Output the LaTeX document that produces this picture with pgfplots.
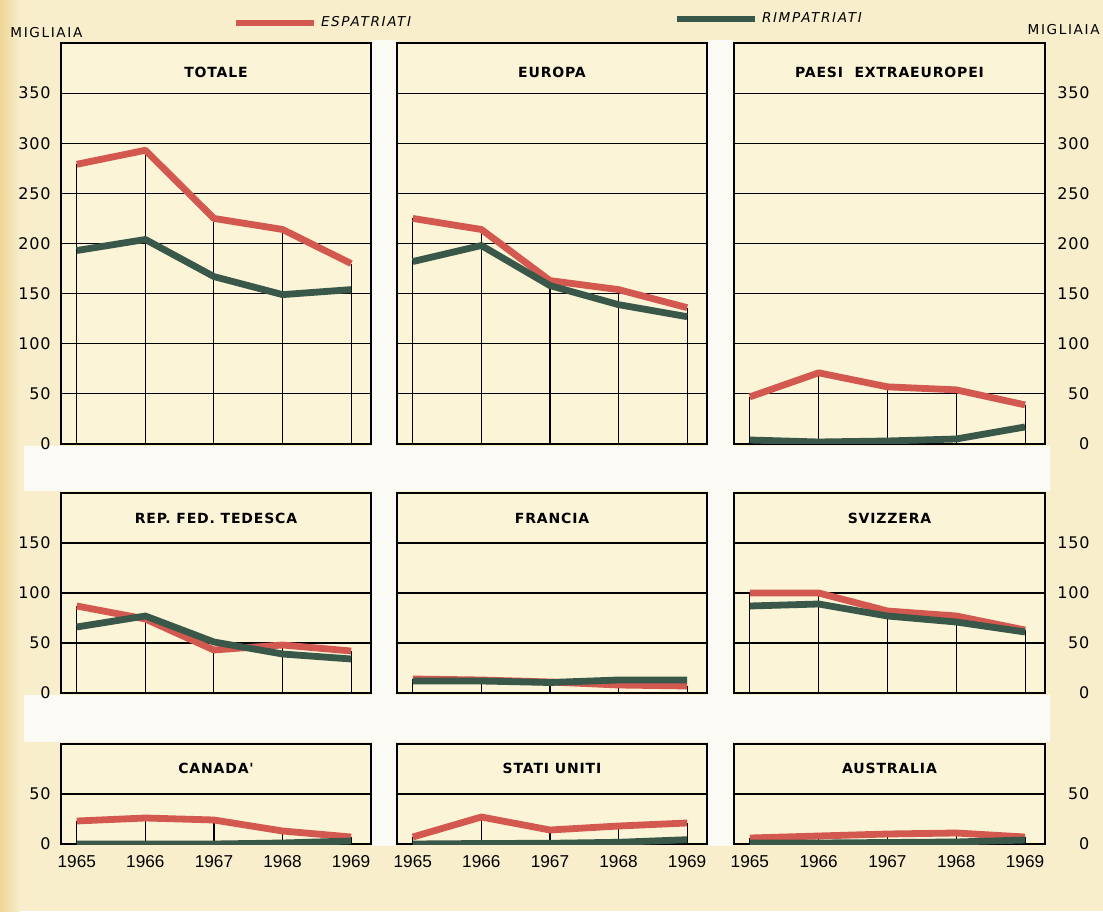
\documentclass[border=0pt]{standalone}
\usepackage{pgfplots}
\usepackage{pgfplotstable}
\pgfplotsset{compat=1.18}
\usepackage{fontspec}
\setmainfont{DejaVu Sans}
\newfontfamily\yearfont{Liberation Sans}
\newfontfamily\tickfont[LetterSpace=5]{DejaVu Sans}
\newfontfamily\titlefont[LetterSpace=6]{DejaVu Sans}
\newfontfamily\legfont[LetterSpace=12]{DejaVu Sans}
\definecolor{bg}{RGB}{248,238,204}
\definecolor{edge}{RGB}{238,214,150}
\definecolor{panelc}{RGB}{251,244,214}
\definecolor{gapc}{RGB}{251,250,244}
\definecolor{espc}{RGB}{211,88,80}
\definecolor{rimc}{RGB}{58,88,74}

\pgfplotstableread{
year esp rim
1965 279 193
1966 293 204
1967 225 167
1968 214 149
1969 180 154
}\totale
\pgfplotstableread{
year esp rim
1965 225 182
1966 214 198
1967 163 158
1968 154 139
1969 136 127
}\europa
\pgfplotstableread{
year esp rim
1965 47 4
1966 71 2
1967 57 3
1968 54 5
1969 39 17
}\extra
\pgfplotstableread{
year esp rim
1965 87 66
1966 74 77
1967 43 51
1968 48 39
1969 42 34
}\tedesca
\pgfplotstableread{
year esp rim
1965 14 12
1966 13 12
1967 11 10.5
1968 8 13
1969 7 13
}\francia
\pgfplotstableread{
year esp rim
1965 100 87
1966 100 89
1967 82 77
1968 77 71
1969 63 61
}\svizzera
\pgfplotstableread{
year esp rim
1965 23 0
1966 26 0
1967 24 0
1968 13 1
1969 7 3
}\canada
\pgfplotstableread{
year esp rim
1965 7 0
1966 27 0.5
1967 14 0.7
1968 18 1.7
1969 21 4.3
}\usa
\pgfplotstableread{
year esp rim
1965 6 1
1966 8 1
1967 10 1.5
1968 11 2
1969 7 4
}\australia

\pgfplotsset{
  legend image code/.code={\draw[#1, line width=3.3pt, line cap=butt] (0pt,0pt) -- (39pt,0pt);},
  panel/.style={
    scale only axis, width=155pt,
    xmin=1964.77, xmax=1969.29, ymin=0,
    axis background/.style={fill=panelc},
    axis line style={black, line width=0.85pt},
    ymajorgrids, grid style={black, line width=0.6pt},
    major tick length=0pt,
    xtick={1965,1966,1967,1968,1969},
    xticklabels={}, yticklabels={},
    tick label style={font=\tickfont\fontsize{8}{9}\selectfont},
    /pgf/number format/assume math mode=true,
    title style={at={(0.5,1)}, anchor=center, font=\titlefont\bfseries\fontsize{7}{8}\selectfont},
  },
  row1/.style={height=200.5pt, ymax=400, ytick={0,50,100,150,200,250,300,350}, title style={yshift=-20.5pt}},
  row2/.style={height=100pt, ymax=200, ytick={0,50,100,150}, title style={yshift=-18.5pt}},
  row3/.style={height=50pt, ymax=100, ytick={0,50}, title style={yshift=-18pt},
    xticklabels={1965,1966,1967,1968,1969},
    xticklabel style={font=\yearfont\fontsize{8.6}{9}\selectfont, inner sep=0pt, yshift=-5.5pt}},
  leftlab/.style={yticklabel style={anchor=east, inner sep=0pt, xshift=-5pt}},
  rightlab/.style={yticklabel pos=right, yticklabel style={anchor=west, inner sep=0pt, xshift=6pt, text width=16pt, align=right}},
}
\newcommand\drops[1]{\addplot[ycomb, black, line width=0.55pt, forget plot] table[x=year,y=esp]{#1};}
\newcommand\espline[1]{\addplot[espc, line width=3.4pt, line join=round] table[x=year,y=esp]{#1};}
\newcommand\rimline[1]{\addplot[rimc, line width=3.4pt, line join=round] table[x=year,y=rim]{#1};}

\begin{document}
\begin{tikzpicture}
\useasboundingbox (0,0) rectangle (551.5pt,455.5pt);
\fill[bg] (0,0) rectangle (551.5pt,455.5pt);
\shade[left color=edge, right color=bg] (0,0) rectangle (10pt,455.5pt);
\fill[gapc] (12pt,210pt) rectangle (525pt,232.5pt);
\fill[gapc] (12pt,84.5pt) rectangle (525pt,108pt);
\fill[gapc] (186pt,32.5pt) rectangle (198pt,435.5pt);
\fill[gapc] (354pt,32.5pt) rectangle (366.5pt,435.5pt);

\node[anchor=west, inner sep=0pt, font=\legfont\fontsize{6.8}{7}\selectfont] at (5pt,439pt) {MIGLIAIA};
\node[anchor=east, inner sep=0pt, font=\legfont\fontsize{6.8}{7}\selectfont] at (550pt,440.5pt) {MIGLIAIA};

% Row 1
\begin{axis}[panel, row1, leftlab, at={(30.5pt,233.5pt)}, anchor=south west,
  yticklabels={0,50,100,150,200,250,300,350}, title={TOTALE},
  legend style={at={(0.5516,1.0499)}, anchor=west, draw=none, fill=none, inner sep=0pt,
    font=\legfont\itshape\fontsize{6.8}{7}\selectfont}]
\drops{\totale}
\espline{\totale}
\addlegendentry{ESPATRIATI}
\rimline{\totale}
\end{axis}

\begin{axis}[panel, row1, at={(198.5pt,233.5pt)}, anchor=south west, title={EUROPA},
  legend style={at={(0.8903,1.0599)}, anchor=west, draw=none, fill=none, inner sep=0pt,
    font=\legfont\itshape\fontsize{6.8}{7}\selectfont}]
\drops{\europa}
\addplot[espc, line width=3.4pt, line join=round, forget plot] table[x=year,y=esp]{\europa};
\rimline{\europa}
\addlegendentry{RIMPATRIATI}
\end{axis}

\begin{axis}[panel, row1, rightlab, at={(367pt,233.5pt)}, anchor=south west, width=155.5pt,
  yticklabels={0,50,100,150,200,250,300,350}, title={PAESI\ \ EXTRAEUROPEI}]
\drops{\extra}
\espline{\extra}
\rimline{\extra}
\end{axis}

% Row 2
\begin{axis}[panel, row2, leftlab, at={(30.5pt,109pt)}, anchor=south west,
  yticklabels={0,50,100,150}, title={REP. FED. TEDESCA}]
\drops{\tedesca}
\espline{\tedesca}
\rimline{\tedesca}
\end{axis}

\begin{axis}[panel, row2, at={(198.5pt,109pt)}, anchor=south west, title={FRANCIA}]
\drops{\francia}
\espline{\francia}
\rimline{\francia}
\end{axis}

\begin{axis}[panel, row2, rightlab, at={(367pt,109pt)}, anchor=south west, width=155.5pt,
  yticklabels={0,50,100,150}, title={SVIZZERA}]
\drops{\svizzera}
\espline{\svizzera}
\rimline{\svizzera}
\end{axis}

% Row 3
\begin{axis}[panel, row3, leftlab, at={(30.5pt,33.5pt)}, anchor=south west,
  yticklabels={0,50}, title={CANADA'}]
\drops{\canada}
\espline{\canada}
\rimline{\canada}
\end{axis}

\begin{axis}[panel, row3, at={(198.5pt,33.5pt)}, anchor=south west, title={STATI UNITI}]
\drops{\usa}
\espline{\usa}
\rimline{\usa}
\end{axis}

\begin{axis}[panel, row3, rightlab, at={(367pt,33.5pt)}, anchor=south west, width=155.5pt,
  yticklabels={0,50}, title={AUSTRALIA}]
\drops{\australia}
\espline{\australia}
\rimline{\australia}
\end{axis}
\end{tikzpicture}
\end{document}
